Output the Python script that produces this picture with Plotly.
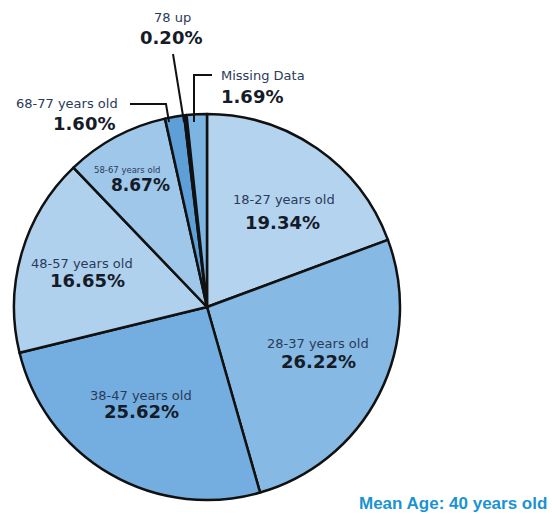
import plotly.graph_objects as go

# age groups, clockwise from 12 o'clock
groups = ["18-27 years old", "28-37 years old", "38-47 years old", "48-57 years old",
          "58-67 years old", "68-77 years old", "78 up", "Missing Data"]
shares = [19.34, 26.22, 25.62, 16.65, 8.67, 1.60, 0.20, 1.69]
pct_labels = ["19.34%", "26.22%", "25.62%", "16.65%", "8.67%", "1.60%", "0.20%", "1.69%"]

slice_colors = ["#b3d3ee", "#86b9e3", "#74aee0", "#b0d1ee",
                "#9ec7ea", "#5f9fd8", "#2f6fb0", "#7cb4e2"]

W, H = 552, 514


def px(x, y):
    # window pixels -> paper coords
    return x / W, 1 - y / H


cx, cy, r = 207, 307, 193
x0, y1 = px(cx - r, cy - r)
x1, y0 = px(cx + r, cy + r)

fig = go.Figure(go.Pie(
    labels=groups,
    values=shares,
    sort=False,
    direction="clockwise",
    rotation=0,
    textinfo="none",
    marker=dict(colors=slice_colors, line=dict(color="#111111", width=2.5)),
    domain=dict(x=[x0, x1], y=[y0, y1]),
    showlegend=False,
    hoverinfo="label+value",
))

LBL = dict(family="DejaVu Sans, Arial, sans-serif", color="#2b3a5a")
PCT = dict(family="DejaVu Sans, Arial, sans-serif", color="#161b28")


def note(x, y, text, font, xanchor="center"):
    px_, py_ = px(x, y)
    fig.add_annotation(x=px_, y=py_, xref="paper", yref="paper", text=text,
                       showarrow=False, xanchor=xanchor, yanchor="middle", font=font)


# (group label pos, size), (pct pos, size)
label_pos = {
    0: ((284, 200), 13, (282, 222), 18),
    1: ((318, 343), 13, (318, 361), 18),
    2: ((141, 395), 13, (141, 411), 18),
    3: ((82, 263), 13, (88, 280), 18),
    4: ((127, 170), 8.5, (140, 185), 17),
}
for i, ((lx, ly), ls, (qx, qy), qs) in label_pos.items():
    note(lx, ly, groups[i], dict(size=ls, **LBL))
    note(qx, qy, "<b>" + pct_labels[i] + "</b>", dict(size=qs, **PCT))

# outside labels for the thin slices
outside = [
    (5, (67, 104), "center", (84, 123)),
    (6, (172, 18), "center", (171, 38)),
    (7, (219, 75), "left", (219, 96)),
]
for i, (lx, ly), xa, (qx, qy) in outside:
    note(lx, ly, groups[i], dict(size=13, **LBL), xa)
    note(qx, qy, "<b>" + pct_labels[i] + "</b>", dict(size=18, **PCT), xa)

# leader lines
leaders = [
    [(130, 104), (166, 104), (169, 122)],
    [(173, 54), (184, 122)],
    [(212, 75), (194, 75), (194, 122)],
]
for pts in leaders:
    path = "M " + " L ".join("{},{}".format(*px(x, y)) for x, y in pts)
    fig.add_shape(type="path", path=path, xref="paper", yref="paper",
                  line=dict(color="#111111", width=2))

note(549, 503, "<b>Mean Age: 40 years old</b>",
     dict(size=17, color="#1a93d3", family="Liberation Sans, Arial, sans-serif"), "right")

fig.update_layout(
    width=W, height=H,
    margin=dict(l=0, r=0, t=0, b=0),
    paper_bgcolor="white",
    plot_bgcolor="white",
)
# drop the default body margin so the figure fills the window exactly
fig.write_html("out.html", config={"displayModeBar": False},
               post_script="document.body.style.margin='0';")
